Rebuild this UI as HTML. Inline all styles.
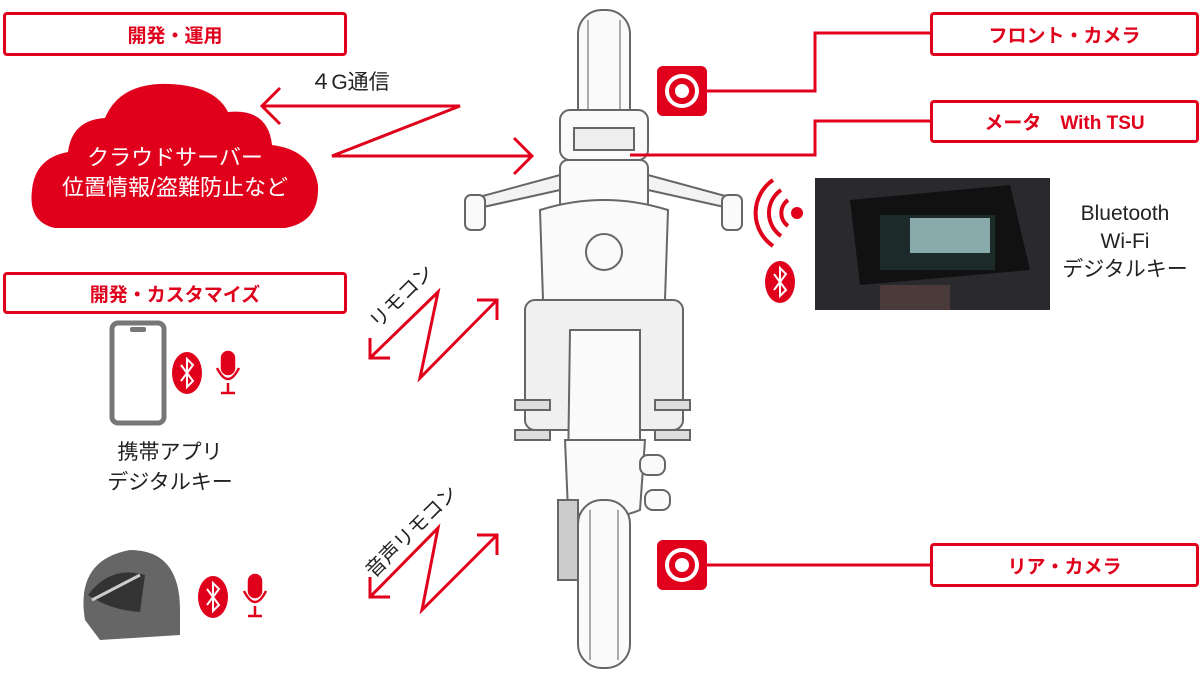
<!DOCTYPE html>
<html><head><meta charset="utf-8"><style>
body{margin:0;width:1201px;height:686px;background:#fff;position:relative;overflow:hidden;font-family:"Liberation Sans","Noto Sans CJK JP",sans-serif}
.box{position:absolute;border:3px solid #e0001b;border-radius:4px;background:#fff;color:#e0001b;font-weight:bold;font-size:19px;display:flex;align-items:center;justify-content:center;box-sizing:border-box}
.t{position:absolute;color:#222;font-size:21px;text-align:center;line-height:30px}
</style></head><body>
<svg width="1201" height="686" style="position:absolute;left:0;top:0">
<g fill="#fafafa" stroke="#666" stroke-width="2">
<rect x="578" y="10" width="52" height="150" rx="24"/>
<path d="M588 20 v130 M620 20 v130" stroke="#aaa"/>
<rect x="560" y="110" width="88" height="50" rx="10"/>
<rect x="574" y="128" width="60" height="22" fill="#eee"/>
<path d="M468 200 L560 175 L648 175 L740 200 L738 210 L648 190 L560 190 L470 210 Z" fill="#f3f3f3"/>
<rect x="465" y="195" width="20" height="35" rx="6"/>
<rect x="722" y="195" width="20" height="35" rx="6"/>
<rect x="560" y="160" width="88" height="50" rx="8"/>
<path d="M540 210 Q604 190 668 210 L665 300 Q604 320 543 300 Z"/>
<circle cx="604" cy="252" r="18"/>
<rect x="525" y="300" width="158" height="130" rx="10" fill="#f0f0f0"/>
<path d="M570 330 L640 330 L640 470 Q604 490 568 470 Z"/>
<rect x="515" y="400" width="35" height="10" fill="#ddd"/>
<rect x="515" y="430" width="35" height="10" fill="#ddd"/>
<rect x="655" y="400" width="35" height="10" fill="#ddd"/>
<rect x="655" y="430" width="35" height="10" fill="#ddd"/>
<path d="M565 440 L645 440 L640 510 Q604 525 568 510 Z"/>
<rect x="640" y="455" width="25" height="20" rx="8"/>
<rect x="645" y="490" width="25" height="20" rx="8"/>
<rect x="578" y="500" width="52" height="168" rx="24"/>
<path d="M590 510 v150 M618 510 v150" stroke="#aaa"/>
<rect x="558" y="500" width="20" height="80" fill="#ccc"/>
</g>
<g stroke="#e0001b" stroke-width="3" fill="none">
<path d="M262 106 H460 L332 156 H532"/>
<path d="M280 88 L262 106 L280 124"/>
<path d="M514 138 L532 156 L514 174"/>
<path d="M370 358 L438 292 L420 378 L497 300"/>
<path d="M370 338 V358 H390"/>
<path d="M477 300 H497 V320"/>
<path d="M370 597 L438 528 L422 610 L497 535"/>
<path d="M370 577 V597 H390"/>
<path d="M477 535 H497 V555"/>
<path d="M707 91 H815 V33 H930"/>
<path d="M630 155 H815 V121 H930"/>
<path d="M707 565 H930"/>
<path d="M773 180 A40 40 0 0 0 773 246" stroke-width="4"/>
<path d="M781 190 A28 28 0 0 0 781 236" stroke-width="4"/>
<path d="M788 200 A16 16 0 0 0 788 226" stroke-width="4"/>
</g>
<circle cx="797" cy="213" r="6" fill="#e0001b"/>
<rect x="657" y="66" width="50" height="50" rx="6" fill="#e0001b"/>
<circle cx="682" cy="91" r="15" fill="none" stroke="#fff" stroke-width="4"/><circle cx="682" cy="91" r="7" fill="#fff"/>
<rect x="657" y="540" width="50" height="50" rx="6" fill="#e0001b"/>
<circle cx="682" cy="565" r="15" fill="none" stroke="#fff" stroke-width="4"/><circle cx="682" cy="565" r="7" fill="#fff"/>
<path d="M55 228 Q28 222 32 190 Q35 158 68 152 Q72 120 105 118 Q120 82 170 84 Q215 86 228 112 Q268 108 272 145 Q312 150 318 185 Q320 222 285 228 Z" fill="#e0001b"/>
<rect x="815" y="178" width="235" height="132" fill="#2a2a2e"/>
<path d="M850 200 L1010 185 L1030 270 L860 285 Z" fill="#111"/>
<rect x="880" y="215" width="115" height="55" fill="#1c2a2a"/>
<rect x="910" y="218" width="80" height="35" fill="#8aa"/>
<rect x="880" y="285" width="70" height="25" fill="#4a3a3a"/>
<g>
<ellipse cx="780" cy="282" rx="15" ry="21" fill="#e0001b"/>
<path d="M774 274 L786 290 L780 296 V268 L786 274 L774 290" stroke="#fff" stroke-width="2" fill="none"/>
<ellipse cx="187" cy="373" rx="15" ry="21" fill="#e0001b"/>
<path d="M181 365 L193 381 L187 387 V359 L193 365 L181 381" stroke="#fff" stroke-width="2" fill="none"/>
<ellipse cx="213" cy="597" rx="15" ry="21" fill="#e0001b"/>
<path d="M207 589 L219 605 L213 611 V583 L219 589 L207 605" stroke="#fff" stroke-width="2" fill="none"/>
</g>
<g fill="#e0001b" stroke="#e0001b" stroke-width="2.5">
<rect x="222" y="352" width="12" height="22" rx="6"/>
<path d="M217 368 Q228 390 239 368 M228 383 V393 M221 393 H235" fill="none"/>
<rect x="249" y="575" width="12" height="22" rx="6"/>
<path d="M244 591 Q255 613 266 591 M255 606 V616 M248 616 H262" fill="none"/>
</g>
<rect x="112" y="323" width="52" height="100" rx="6" fill="none" stroke="#777" stroke-width="5"/>
<rect x="130" y="327" width="16" height="5" rx="2" fill="#777"/>
<path d="M85 620 Q75 560 130 550 Q180 550 180 610 L180 635 L100 640 Z" fill="#666"/>
<path d="M88 595 Q110 565 145 575 L140 612 Q110 610 88 595 Z" fill="#333"/>
<path d="M92 600 L140 575" stroke="#ccc" stroke-width="3"/>
</svg>
<div class="box" style="left:3px;top:12px;width:344px;height:44px">開発・運用</div>
<div class="box" style="left:3px;top:272px;width:344px;height:42px">開発・カスタマイズ</div>
<div class="box" style="left:930px;top:12px;width:269px;height:44px">フロント・カメラ</div>
<div class="box" style="left:930px;top:100px;width:269px;height:43px">メータ　With TSU</div>
<div class="box" style="left:930px;top:543px;width:269px;height:44px">リア・カメラ</div>
<div class="t" style="left:40px;top:143px;width:270px;color:#fff;font-size:22px;line-height:30px">クラウドサーバー<br>位置情報/盗難防止など</div>
<div class="t" style="left:300px;top:68px;width:100px">４G通信</div>
<div class="t" style="left:1050px;top:200px;width:150px;line-height:28px">Bluetooth<br>Wi-Fi<br>デジタルキー</div>
<div class="t" style="left:90px;top:438px;width:160px">携帯アプリ<br>デジタルキー</div>
<div class="t" style="left:352px;top:282px;width:100px;transform:rotate(-45deg);font-size:20px">リモコン</div>
<div class="t" style="left:342px;top:517px;width:140px;transform:rotate(-45deg);font-size:20px">音声リモコン</div>
</body></html>
